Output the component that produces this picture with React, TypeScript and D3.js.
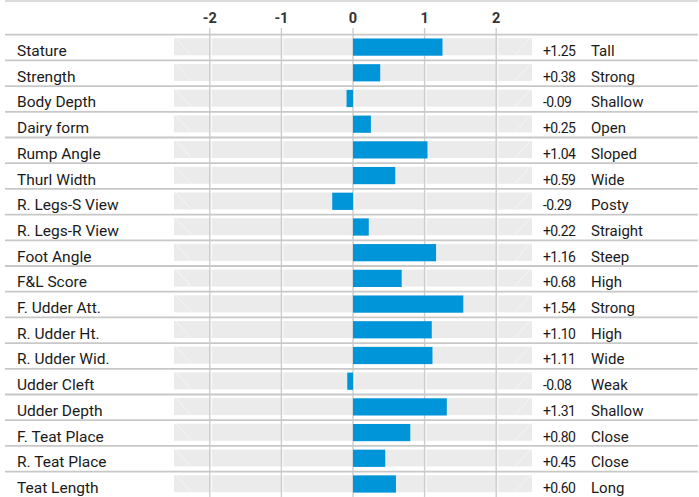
import React from "react";
import * as d3 from "d3";

const traits = [
  "Stature", "Strength", "Body Depth", "Dairy form", "Rump Angle", "Thurl Width",
  "R. Legs-S View", "R. Legs-R View", "Foot Angle", "F&L Score", "F. Udder Att.",
  "R. Udder Ht.", "R. Udder Wid.", "Udder Cleft", "Udder Depth", "F. Teat Place",
  "R. Teat Place", "Teat Length",
];
const values = [
  1.25, 0.38, -0.09, 0.25, 1.04, 0.59, -0.29, 0.22, 1.16, 0.68, 1.54, 1.10, 1.11,
  -0.08, 1.31, 0.80, 0.45, 0.60,
];
const descriptors = [
  "Tall", "Strong", "Shallow", "Open", "Sloped", "Wide", "Posty", "Straight", "Steep",
  "High", "Strong", "High", "Wide", "Weak", "Shallow", "Close", "Close", "Long",
];
const ticks = [-2, -1, 0, 1, 2];

const W = 699;
const H = 497;
const FONT = "Roboto, 'Noto Sans', sans-serif";

export default function App() {
  const x = d3.scaleLinear().domain([-2.5, 2.5]).range([174, 532]);
  const headerY = 34.7;
  const rowH = 25.7;
  const y = d3
    .scaleBand<number>()
    .domain(d3.range(traits.length))
    .range([headerY, headerY + rowH * traits.length])
    .paddingInner(0)
    .paddingOuter(0);
  const fmt = (v: number) => (v >= 0 ? "+" : "-") + Math.abs(v).toFixed(2);

  return (
    <svg
      width={W}
      height={H}
      style={{ position: "absolute", left: 0, top: 0, background: "#fff" }}
    >
      <line x1={5} x2={698} y1={1} y2={1} stroke="#cfcfcf" strokeWidth={1.6} />
      {ticks.map((t) => (
        <text
          key={"t" + t}
          x={x(t)}
          y={23}
          textAnchor="middle"
          fontFamily={FONT}
          fontSize={14.5}
          fontWeight={700}
          fill="#333"
        >
          {String(t)}
        </text>
      ))}
      {traits.map((name, i) => {
        const top = y(i)!;
        return (
          <g key={name}>
            <rect x={x(-2.5)} y={top + 3.6} width={x(2.5) - x(-2.5)} height={17} fill="#ebebeb" />
            <line
              x1={x(-2.5) + 2}
              y1={top + 4}
              x2={x(-2.5) + 17}
              y2={top + 20}
              stroke="#fff"
              strokeOpacity={0.35}
              strokeWidth={1.2}
            />
            <line
              x1={x(2.5) - 17}
              y1={top + 20}
              x2={x(2.5) - 2}
              y2={top + 4}
              stroke="#fff"
              strokeOpacity={0.35}
              strokeWidth={1.2}
            />
          </g>
        );
      })}
      {ticks.map((t) => (
        <g key={"g" + t}>
          <line x1={x(t)} x2={x(t)} y1={28} y2={H} stroke="#cdcdcd" strokeWidth={1.4} />
          <line x1={x(t) + 1.6} x2={x(t) + 1.6} y1={headerY} y2={H} stroke="#fff" strokeOpacity={0.7} strokeWidth={1.2} />
        </g>
      ))}
      {traits.map((name, i) => {
        const top = y(i)!;
        const v = values[i];
        const bx = Math.min(x(0), x(v));
        const bw = Math.abs(x(v) - x(0));
        return (
          <g key={"r" + name}>
            <rect x={bx} y={top + 3.8} width={bw} height={17.2} fill="#0094d9" />
            <text x={17} y={top + 21.3} fontFamily={FONT} fontSize={15.5} fill="#1a1a1a">
              {name}
            </text>
            <text x={543} y={top + 21.3} fontFamily={FONT} fontSize={14} letterSpacing={-0.6} fill="#1a1a1a">
              {fmt(v)}
            </text>
            <text x={591} y={top + 21.3} fontFamily={FONT} fontSize={15} fill="#1a1a1a">
              {descriptors[i]}
            </text>
          </g>
        );
      })}
      {d3.range(traits.length).map((i) => (
        <line
          key={"s" + i}
          x1={5}
          x2={698}
          y1={y(i)!}
          y2={y(i)!}
          stroke="#c8c8c8"
          strokeWidth={1.8}
        />
      ))}
    </svg>
  );
}
